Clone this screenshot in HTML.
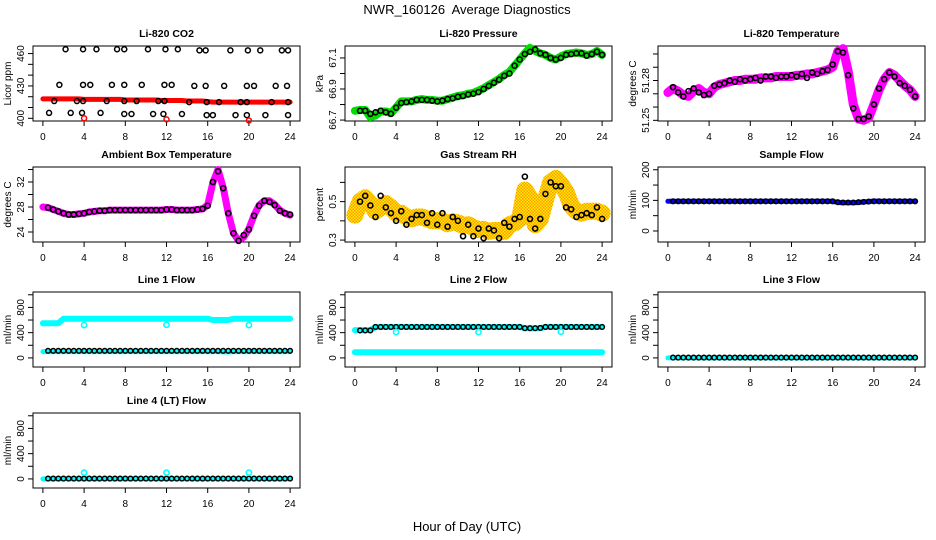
<!DOCTYPE html>
<html><head><meta charset="utf-8">
<style>
html,body{margin:0;padding:0;background:#fff;}
svg{display:block;font-family:"Liberation Sans",Arial,sans-serif;}
</style></head>
<body>
<svg id="chart" width="936" height="540" viewBox="0 0 936 540" xmlns="http://www.w3.org/2000/svg">
<defs>
<pattern id="chk" width="3" height="3" patternUnits="userSpaceOnUse">
<rect width="3" height="3" fill="#ffee00"/>
<rect width="1.5" height="1.5" fill="#ff9900"/>
<rect x="1.5" y="1.5" width="1.5" height="1.5" fill="#ff9900"/>
</pattern>
</defs>
<text x="467" y="14" font-size="13" text-anchor="middle">NWR_160126&#160; Average Diagnostics</text>
<text x="467" y="531" font-size="13" text-anchor="middle">Hour of Day (UTC)</text>
</svg>
<script>
// time grids (hours)
const gridTimes = [0,0.5,1,1.5,2,2.5,3,3.5,4,4.5,5,5.5,6,6.5,7,7.5,8,8.5,9,9.5,10,10.5,11,11.5,12,12.5,13,13.5,14,14.5,15,15.5,16,16.5,17,17.5,18,18.5,19,19.5,20,20.5,21,21.5,22,22.5,23,23.5,24];
const xTicks = [0,4,8,12,16,20,24];

// CO2
const co2Red = [418,418,418,418,418,418,418,418,417.5,417.5,417.5,417.5,417.5,417.5,417.5,417.5,417,417,417,417,417,417,417,416.5,416.5,416.5,416.5,416.5,416,416,416,416,415.5,415,415,415,415,415,415,415,415,415,415,415,415,415,415,415,415];
const co2BlackT = [2.2,3.9,5.2,7.2,7.9,10.2,11.9,13.1,15.2,15.8,18.2,19.9,21.1,23.2,23.8,1.6,3.9,4.6,6.7,7.9,9.6,11.8,12.5,14.7,15.8,17.6,19.8,20.5,22.6,23.7,1.1,3.3,3.9,6.2,7.9,9.1,11.2,11.8,14.2,15.9,17.1,19.2,19.8,22.2,23.8,0.6,2.7,3.8,5.6,7.9,8.6,10.7,11.7,13.5,15.9,16.5,18.7,19.8,21.6,23.8];
const co2BlackV = [464,464,464,464,464,464,464,464,463,463,463,463,463,463,463,431,431,431,431,431,431,431,431,430,430,430,430,430,430,430,416,416,416,416,416,416,416,416,415,415,415,415,415,415,415,405,405,405,405,404,404,404,404,404,403,403,403,403,403,403];
const co2RedT = [4,12,20];
const co2RedV = [400,399,398];

// Pressure
const presGreen = [66.76,66.765,66.765,66.72,66.73,66.755,66.755,66.745,66.78,66.82,66.82,66.82,66.83,66.835,66.83,66.83,66.825,66.825,66.835,66.845,66.855,66.86,66.87,66.875,66.89,66.905,66.925,66.945,66.965,66.99,67.01,67.05,67.09,67.13,67.165,67.145,67.13,67.12,67.1,67.09,67.11,67.125,67.13,67.135,67.13,67.12,67.125,67.145,67.12];
const presBlack = [66.76,66.76,66.74,66.75,66.76,66.75,66.74,66.78,66.81,66.815,66.82,66.83,66.83,66.83,66.825,66.82,66.825,66.835,66.84,66.85,66.855,66.865,66.87,66.88,66.9,66.92,66.94,66.96,66.985,67.0,67.05,67.09,67.125,67.14,67.155,67.13,67.12,67.1,67.09,67.1,67.12,67.125,67.13,67.13,67.115,67.125,67.14,67.12];

// Li-820 temperature
const tempMag = [51.271,51.274,51.272,51.269,51.268,51.272,51.274,51.271,51.270,51.275,51.277,51.278,51.279,51.28,51.28,51.281,51.281,51.281,51.282,51.282,51.282,51.283,51.283,51.283,51.283,51.284,51.284,51.285,51.285,51.286,51.287,51.288,51.29,51.302,51.304,51.287,51.262,51.251,51.25,51.252,51.262,51.273,51.281,51.286,51.284,51.28,51.276,51.273,51.268];
const tempBlack = [51.275,51.271,51.268,51.272,51.274,51.271,51.269,51.27,51.276,51.277,51.278,51.28,51.279,51.281,51.28,51.281,51.282,51.28,51.283,51.283,51.282,51.283,51.283,51.284,51.283,51.285,51.282,51.286,51.285,51.287,51.288,51.292,51.302,51.301,51.284,51.259,51.251,51.251,51.253,51.262,51.274,51.281,51.286,51.283,51.278,51.276,51.273,51.268];

// Ambient box temperature
const ambMag = [28,27.9,27.6,27.3,27,26.8,26.8,26.9,27,27.2,27.3,27.4,27.4,27.5,27.5,27.5,27.5,27.5,27.5,27.5,27.5,27.5,27.5,27.5,27.6,27.6,27.5,27.5,27.5,27.5,27.6,27.7,28.3,31.9,34,31.1,27,23.8,22.6,23.2,24.5,26.7,28.3,29,29,28.4,27.5,27,26.7];
const ambBlack = [27.9,27.6,27.3,27,26.8,26.8,26.9,27,27.2,27.3,27.4,27.4,27.5,27.5,27.5,27.5,27.5,27.5,27.5,27.5,27.5,27.5,27.5,27.6,27.6,27.5,27.5,27.5,27.5,27.6,27.7,28.2,32,33.7,31,27,23.8,22.6,23.5,24.4,26.6,28.2,29,28.8,28.3,27.4,27,26.8];

// Gas stream RH
const rhBand = [0.43,0.5,0.52,0.49,0.45,0.47,0.49,0.47,0.44,0.44,0.42,0.41,0.42,0.42,0.41,0.4,0.4,0.4,0.385,0.395,0.39,0.375,0.38,0.365,0.355,0.355,0.345,0.35,0.35,0.345,0.38,0.39,0.41,0.56,0.52,0.38,0.41,0.51,0.6,0.62,0.59,0.55,0.48,0.45,0.44,0.45,0.45,0.45,0.44];
const rhBlack = [0.5,0.53,0.48,0.42,0.53,0.47,0.44,0.4,0.45,0.38,0.41,0.43,0.43,0.39,0.44,0.38,0.44,0.37,0.42,0.4,0.32,0.38,0.32,0.36,0.31,0.36,0.35,0.31,0.39,0.37,0.41,0.42,0.63,0.41,0.36,0.41,0.54,0.6,0.58,0.58,0.47,0.46,0.42,0.43,0.44,0.43,0.47,0.41];

// Sample flow
const sampleBlue = [97,97,97,97,97,97,97,97,97,97,97,97,97,97,97,97,97,97,97,97,97,97,97,97,97,97,97,97,97,97,97,97,97,93,92,92,92,93,95,96,98,97,97,97,97,97,97,97,97];
const sampleBlack = [97,97,97,97,97,97,97,97,97,97,97,97,97,97,97,97,97,97,97,97,97,97,97,97,97,97,97,97,97,97,97,97,94,93,93,93,94,95,96,97,97,97,97,97,97,97,97,97];

// Line 1 flow
const l1CyanHi = [550,550,550,550,620,620,620,620,620,620,620,620,620,620,620,620,620,620,620,620,620,620,620,620,620,620,620,620,620,620,620,620,620,600,600,600,600,620,620,620,620,620,620,620,620,620,620,620,620];
const l1CyanLo = [100,100,100,100,100,100,100,100,100,100,100,100,100,100,100,100,100,100,100,100,100,100,100,100,100,100,100,100,100,100,100,100,100,100,100,95,95,100,100,100,100,100,100,100,100,100,100,100,100];
const l1Black = [112,112,112,112,112,112,112,112,112,112,112,112,112,112,112,112,112,112,112,112,112,112,112,112,112,112,112,112,112,112,112,112,112,112,112,112,112,112,112,112,112,112,112,112,112,112,112,112];
const l1OutT = [4,12,20];
const l1OutV = [520,525,520];

// Line 2 flow
const l2CyanHi = [440,440,440,440,490,490,490,490,490,490,490,490,490,490,490,490,490,490,490,490,490,490,490,490,490,490,490,490,490,490,490,490,490,470,470,470,470,490,490,490,490,490,490,490,490,490,490,490,490];
const l2CyanLo = [90,90,90,90,90,90,90,90,90,90,90,90,90,90,90,90,90,90,90,90,90,90,90,90,90,90,90,90,90,90,90,90,90,90,90,90,90,90,90,90,90,90,90,90,90,90,90,90,90];
const l2Black = [435,435,435,490,490,490,490,490,490,490,490,490,490,490,490,490,490,490,490,490,490,490,490,490,490,490,490,490,490,490,490,490,470,470,470,475,490,490,490,490,490,490,490,490,490,490,490,490];
const l2OutT = [4,12,20];
const l2OutV = [410,410,415];

// Line 3 flow
const l3Cyan = [0,0,0,0,0,0,0,0,0,0,0,0,0,0,0,0,0,0,0,0,0,0,0,0,0,0,0,0,0,0,0,0,0,0,0,0,0,0,0,0,0,0,0,0,0,0,0,0,0];
const l3Black = [5,5,5,5,5,5,5,5,5,5,5,5,5,5,5,5,5,5,5,5,5,5,5,5,5,5,5,5,5,5,5,5,5,5,5,5,5,5,5,5,5,5,5,5,5,5,5,5];

// Line 4 flow
const l4Cyan = [0,0,0,0,0,0,0,0,0,0,0,0,0,0,0,0,0,0,0,0,0,0,0,0,0,0,0,0,0,0,0,0,0,0,0,0,0,0,0,0,0,0,0,0,0,0,0,0,0];
const l4Black = [5,5,5,5,5,5,5,5,5,5,5,5,5,5,5,5,5,5,5,5,5,5,5,5,5,5,5,5,5,5,5,5,5,5,5,5,5,5,5,5,5,5,5,5,5,5,5,5];
const l4OutT = [4,12,20];
const l4OutV = [100,100,100];

const svg = document.getElementById('chart');
const NS = 'http://www.w3.org/2000/svg';
const colLeft = [33,345,658], rowTop = [46,167,292,413], boxW = 267, boxH = 75;

function mk(tag, attrs, parent){
  const e = document.createElementNS(NS, tag);
  for (const k in attrs) e.setAttribute(k, attrs[k]);
  (parent||svg).appendChild(e);
  return e;
}

function panel(cfg){
  const L = colLeft[cfg.col], T = rowTop[cfg.row];
  const g = mk('g', {});
  
  
  const xs = t => L + (t + 0.96) / 25.92 * boxW;
  const ys = v => T + boxH - (v - cfg.ylim[0]) / (cfg.ylim[1] - cfg.ylim[0]) * boxH;
  const title = mk('text', {x: L + boxW/2, y: T - 9, 'font-size': 10.5, 'font-weight': 'bold', 'text-anchor': 'middle'}, g);
  title.textContent = cfg.title;
  
  
  const box = mk('rect', {x: L, y: T, width: boxW, height: boxH, fill: 'none', stroke: '#000', 'stroke-width': 1}, g);
  
  
  const xa = mk('g', {}, g);
  
  
  mk('line', {x1: xs(xTicks[0]), x2: xs(xTicks[xTicks.length-1]), y1: T+boxH, y2: T+boxH, stroke: '#000'}, xa);
  xTicks.forEach(t => {
    mk('line', {x1: xs(t), x2: xs(t), y1: T+boxH, y2: T+boxH+5, stroke: '#000'}, xa);
    const tx = mk('text', {x: xs(t), y: T+boxH+19, 'font-size': 10, 'text-anchor': 'middle'}, xa);
    tx.textContent = t;
  });
  const ya = mk('g', {}, g);
  
  
  mk('line', {x1: L, x2: L, y1: ys(cfg.yticks[0]), y2: ys(cfg.yticks[cfg.yticks.length-1]), stroke: '#000'}, ya);
  cfg.yticks.forEach(v => mk('line', {x1: L-5, x2: L, y1: ys(v), y2: ys(v), stroke: '#000'}, ya));
  cfg.ylabels.forEach((v, i) => {
    const y = ys(v);
    const tx = mk('text', {x: L-9, y: y, 'font-size': 10, 'text-anchor': 'middle', transform: `rotate(-90 ${L-9} ${y})`}, ya);
    tx.textContent = cfg.ylabelText ? cfg.ylabelText[i] : v;
  });
  const yt = mk('text', {x: L-22, y: T+boxH/2, 'font-size': 10, 'text-anchor': 'middle', transform: `rotate(-90 ${L-22} ${T+boxH/2})`}, g);
  yt.textContent = cfg.ylab;
  
  
  return {g, xs, ys, L, T};
}

function band(p, times, vals, color, width, name){
  const pts = times.map((t, i) => p.xs(t).toFixed(1) + ',' + p.ys(vals[i]).toFixed(1)).join(' ');
  const pl = mk('polyline', {points: pts, fill: 'none', stroke: color, 'stroke-width': width, 'stroke-linejoin': 'round', 'stroke-linecap': 'round'}, p.g);
  
  
  return pl;
}
function circles(p, times, vals, color, r, sw, name){
  const gg = mk('g', {}, p.g);
  
  
  times.forEach((t, i) => {
    mk('circle', {cx: p.xs(t), cy: p.ys(vals[i]), r: r, fill: 'none', stroke: color, 'stroke-width': sw}, gg);
  });
  return gg;
}
const blackTimes = gridTimes.slice(1);

let p = panel({name:'co2', col:0, row:0, title:'Li-820 CO2', ylab:'Licor ppm', ylim:[397.5,467], yticks:[400,410,420,430,440,450,460], ylabels:[400,430,460]});
band(p, gridTimes, co2Red, '#ff0000', 5, 'co2-red-series');
circles(p, co2BlackT, co2BlackV, '#000', 2.5, 1.5, 'co2-black-points');
circles(p, co2RedT, co2RedV, '#ff0000', 2.5, 1.5, 'co2-red-outliers');

p = panel({name:'pressure', col:1, row:0, title:'Li-820 Pressure', ylab:'kPa', ylim:[66.694,67.177], yticks:[66.7,66.8,66.9,67.0,67.1], ylabels:[66.7,66.9,67.1], ylabelText:['66.7','66.9','67.1']});
band(p, gridTimes, presGreen, '#00dd00', 8, 'pressure-green-series');
circles(p, blackTimes, presBlack, '#000', 2.5, 1.6, 'pressure-black-points');

p = panel({name:'li820-temp', col:2, row:0, title:'Li-820 Temperature', ylab:'degrees C', ylim:[51.2495,51.306], yticks:[51.25,51.26,51.27,51.28,51.29,51.30], ylabels:[51.25,51.28], ylabelText:['51.25','51.28']});
band(p, gridTimes, tempMag, '#ff00ff', 9, 'li820-temp-magenta-series');
circles(p, blackTimes, tempBlack, '#000', 2.5, 1.6, 'li820-temp-black-points');

p = panel({name:'ambient-temp', col:0, row:1, title:'Ambient Box Temperature', ylab:'degrees C', ylim:[22.4,34.4], yticks:[24,26,28,30,32,34], ylabels:[24,28,32]});
band(p, gridTimes, ambMag, '#ff00ff', 7, 'ambient-temp-magenta-series');
circles(p, blackTimes, ambBlack, '#000', 2.5, 1.6, 'ambient-temp-black-points');

p = panel({name:'gas-rh', col:1, row:1, title:'Gas Stream RH', ylab:'percent', ylim:[0.29,0.68], yticks:[0.3,0.4,0.5,0.6], ylabels:[0.3,0.5]});
band(p, gridTimes, rhBand, 'url(#chk)', 17, 'gas-rh-checkered-band');
circles(p, blackTimes, rhBlack, '#000', 2.5, 1.6, 'gas-rh-black-points');

p = panel({name:'sample-flow', col:2, row:1, title:'Sample Flow', ylab:'ml/min', ylim:[-36,209], yticks:[0,50,100,150,200], ylabels:[0,100,200]});
band(p, gridTimes, sampleBlue, '#0000ff', 5, 'sample-flow-blue-series');
circles(p, blackTimes, sampleBlack, '#000', 2.3, 1.5, 'sample-flow-black-points');

const flowY = {ylim:[-144,1044], yticks:[0,200,400,600,800,1000], ylabels:[0,400,800]};
p = panel(Object.assign({name:'line1-flow', col:0, row:2, title:'Line 1 Flow', ylab:'ml/min'}, flowY));
band(p, gridTimes, l1CyanHi, '#00ffff', 6, 'line1-cyan-upper-series');
band(p, gridTimes, l1CyanLo, '#00ffff', 5, 'line1-cyan-lower-series');
circles(p, blackTimes, l1Black, '#000', 2.3, 1.5, 'line1-black-points');
circles(p, l1OutT, l1OutV, '#00ffff', 2.6, 1.6, 'line1-cyan-outliers');

p = panel(Object.assign({name:'line2-flow', col:1, row:2, title:'Line 2 Flow', ylab:'ml/min'}, flowY));
band(p, gridTimes, l2CyanHi, '#00ffff', 6, 'line2-cyan-upper-series');
band(p, gridTimes, l2CyanLo, '#00ffff', 6, 'line2-cyan-lower-series');
circles(p, blackTimes, l2Black, '#000', 2.3, 1.5, 'line2-black-points');
circles(p, l2OutT, l2OutV, '#00ffff', 2.6, 1.6, 'line2-cyan-outliers');

p = panel(Object.assign({name:'line3-flow', col:2, row:2, title:'Line 3 Flow', ylab:'ml/min'}, flowY));
band(p, gridTimes, l3Cyan, '#00ffff', 5, 'line3-cyan-series');
circles(p, blackTimes, l3Black, '#000', 2.3, 1.5, 'line3-black-points');

p = panel(Object.assign({name:'line4-flow', col:0, row:3, title:'Line 4 (LT) Flow', ylab:'ml/min'}, flowY));
band(p, gridTimes, l4Cyan, '#00ffff', 5, 'line4-cyan-series');
circles(p, blackTimes, l4Black, '#000', 2.3, 1.5, 'line4-black-points');
circles(p, l4OutT, l4OutV, '#00ffff', 2.6, 1.6, 'line4-cyan-outliers');
</script>
</body></html>
